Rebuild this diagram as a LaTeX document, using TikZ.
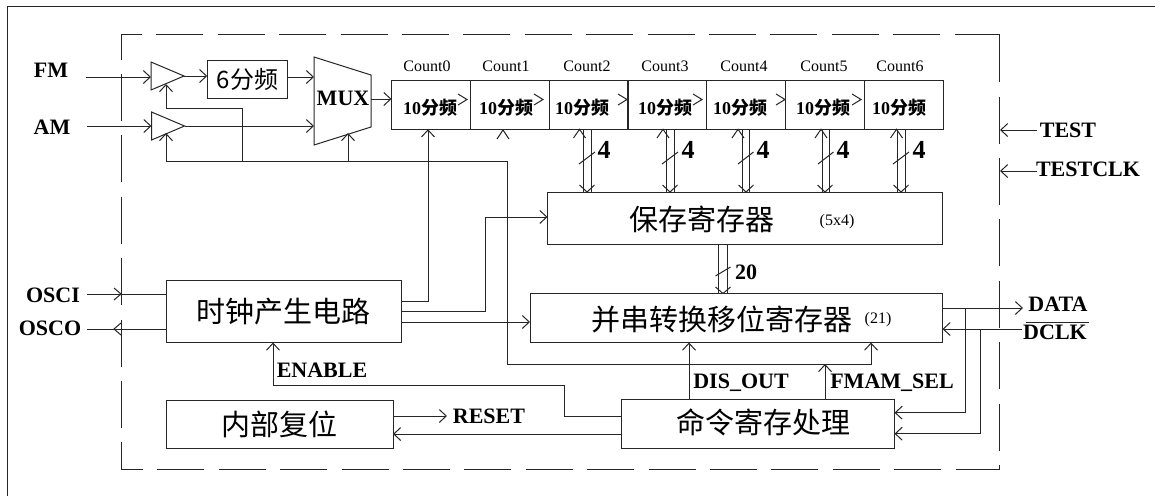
\documentclass[tikz,border=0pt]{standalone}
\usepackage{fontspec}
\setmainfont{Liberation Serif}
\newfontfamily\cjk{Noto Sans CJK SC}
\usetikzlibrary{arrows.meta,shapes.geometric}
\tikzset{
  block/.style={draw,inner sep=0pt,outer sep=0pt},
  buffer/.style={draw,isosceles triangle,isosceles triangle stretches,shape border rotate=0,
    inner sep=0pt,outer sep=0pt,minimum width=28pt,minimum height=33pt,anchor=lower side},
  pin/.style={font=\fontsize{22}{22}\selectfont\bfseries,inner sep=0pt},
  big/.style={font=\fontsize{29}{29}\selectfont\cjk,inner sep=0pt},
  small/.style={font=\fontsize{16}{16}\selectfont,inner sep=0pt},
  tendiv/.style={font=\fontsize{18}{18}\selectfont\bfseries,inner sep=0pt},
  barb/.style={>={Straight Barb[length=7pt,width=13pt]},->},
}
\begin{document}
\begin{tikzpicture}[x=1pt,y=-1pt,line width=1pt,color=black!85,every node/.append style={text=black}]
  \useasboundingbox (0,0) rectangle (1155,496);
  \draw (7.5,496) -- (7.5,6.5) -- (1155,6.5);
  % dashed outline
  \draw[dash pattern=on 47pt off 14.4pt,dash phase=26pt] (121,34.5) -- (999.5,34.5);
  \draw[dash pattern=on 47pt off 14.4pt,dash phase=22pt] (121,34.5) -- (121,469);
  \draw[dash pattern=on 47pt off 14.4pt,dash phase=25pt] (121,469) -- (999.5,469);
  \draw[dash pattern=on 47pt off 14.4pt,dash phase=43pt] (999.5,469) -- (999.5,34.5);
  % pins
  \node[pin] (fm) at (51,70) {FM};
  \node[pin] (am) at (52,127) {AM};
  \node[pin] (osci) at (53,295) {OSCI};
  \node[pin] (osco) at (50,328) {OSCO};
  \node[pin] (data) at (1058,304) {DATA};
  \node[pin] (dclk) at (1055,332) {DCLK};
  \node[pin] (test) at (1068,130) {TEST};
  \node[pin] (testclk) at (1088,169) {TESTCLK};
  \draw[line width=.9pt] (1025.5,322) -- (1089,322);
  % front end
  \node[buffer] (fmbuf) at (151,76) {};
  \node[buffer] (ambuf) at (151.5,126) {};
  \node[block,minimum width=80.5pt,minimum height=38pt] (div6) at (247.5,79)
    {\fontsize{24}{24}\selectfont\cjk 6分频};
  \node[pin] (mux) at (343,98) {MUX};
  \draw (314,57) -- (371,75) -- (371,127) -- (314,145) -- cycle;
  \coordinate (muxw) at (314,99);
  \coordinate (muxe) at (371,99);
  \coordinate (muxs) at (348,133);
  \coordinate (ctlbus) at (242,161);
  % counters
  \foreach \n/\x/\tx/\lx in {0/431/430/427,1/509.5/506/506,2/588.5/582/587,
    3/667/665/665,4/745.5/740/744,5/824.5/823/824,6/903.5/899/900}{
    \node[block,minimum width=79pt,minimum height=48.5pt] (count\n) at (\x,105) {};
    \node[tendiv] (tendiv\n) at (\tx,108) {10{\cjk 分频}};
    \node[small] (countlabel\n) at (\lx,66) {Count\n};
  }
  % big blocks
  \node[block,minimum width=395pt,minimum height=52.5pt] (save) at (745,218.25) {};
  \node[big] (savetext) at (702,219) {保存寄存器};
  \node[small] (savesize) at (837,222) {(5x4)};
  \node[block,minimum width=412.5pt,minimum height=49pt] (shift) at (736.25,318) {};
  \node[big] (shifttext) at (722,319) {并串转换移位寄存器};
  \node[small] (shiftsize) at (878,320) {(21)};
  \node[block,minimum width=234.5pt,minimum height=62.5pt,big] (clk) at (283.75,311.25) {时钟产生电路};
  \node[block,minimum width=227pt,minimum height=48.5pt,big] (rst) at (279.5,424.25) {内部复位};
  \node[block,minimum width=273pt,minimum height=49pt] (cmd) at (758,423.5) {};
  \node[big] (cmdtext) at (763,422) {命令寄存处理};
  % labels on wires
  \node[pin] (enable) at (322,370) {ENABLE};
  \node[pin] (reset) at (489,416) {RESET};
  \node[pin] (disout) at (741,383) {DIS\_OUT};
  \node[pin] (fmamsel) at (892,383) {FMAM\_SEL};
  % front end wiring
  \draw[barb] (86,77) -- (fmbuf.lower side |- 0,77);
  \draw[barb] (87,126) -- (ambuf.lower side);
  \draw[barb] (fmbuf.apex) -- (div6.west |- fmbuf.apex);
  \draw[barb] (div6.east |- 0,77) -- (muxw |- 0,77);
  \draw[barb] (ambuf.apex) -- (muxw |- ambuf.apex);
  \draw[barb] (muxe) -- (count0.west |- muxe);
  \draw[barb] (ctlbus) -- (242,108) -- (166,108) -- (166,84);
  \draw[barb] (507,364) -- (507,161) -- (166,161) -- (166,133);
  \draw[barb] (muxs |- ctlbus) -- (muxs);
  \draw[barb] (507,364) -- (871,364) -- (871,342.5);
  % carry chain
  \foreach \x in {467,543,627,702,785,861}{
    \draw (\x-9,94) -- (\x,99.5) -- (\x-9,105);
  }
  \draw (497,139) -- (503,130) -- (509,139);
  % clock wiring
  \draw[barb] (clk.east |- 0,301) -- (428,301) -- (428,129.25);
  \draw[barb] (clk.east |- 0,311) -- (485,311) -- (485,217) -- (save.west |- 0,217);
  \draw[barb] (clk.east |- 0,322) -- (shift.west |- 0,322);
  \draw (87,294) -- (clk.west |- 0,294);
  \draw (114,288) -- (121,294) -- (114,300);
  \draw (clk.west |- 0,329) -- (87,329);
  \draw (121,323) -- (114,329) -- (121,335);
  % parallel buses
  \foreach \a/\b/\u/\d/\t in {583/591/579.5/587/604,666/674/663/670/688,742/749.5/738/746/763,
    822/829.5/821/825/843,897/905/896.5/901/919}{
    \draw (\a,129.25) -- (\a,192);
    \draw (\b,129.25) -- (\b,192);
    \draw (\u-6,138) -- (\u,129.25) -- (\u+6,138);
    \draw (\d-7.5,185) -- (\d,192) -- (\d+7.5,185);
    \draw (\a-4,164) -- (\b+4,152);
    \node[pin,font=\fontsize{26}{26}\selectfont\bfseries] (buswidth\a) at (\t,150) {4};
  }
  \draw (save.south -| 718.5,0) -- (shift.north -| 718.5,0);
  \draw (save.south -| 727,0) -- (shift.north -| 727,0);
  \draw (715.5,287) -- (723,293.5) -- (730.5,287);
  \draw (715.5,276) -- (730.5,267);
  \node[pin] (shiftwidth) at (746,272) {20};
  % control wiring
  \draw[barb] (cmd.west |- 0,416) -- (564,416) -- (564,385) -- (273,385) -- (273,342.5);
  \draw[barb] (rst.east |- 0,416) -- (447,416);
  \draw[barb] (cmd.west |- 0,434) -- (rst.east |- 0,434);
  \draw[barb] (689,399) -- (689,342.5);
  \draw[barb] (825,399) -- (825,364);
  % right side
  \draw[barb] (shift.east |- 0,308) -- (1023,308);
  \draw[barb] (1022,329) -- (shift.east |- 0,329);
  \draw[barb] (965,308) -- (965,412.7) -- (cmd.east |- 0,412.7);
  \draw[barb] (980,329) -- (980,433.7) -- (cmd.east |- 0,433.7);
  \draw[barb] (1037,130) -- (1000,130);
  \draw[barb] (1037,171) -- (1000,171);
\end{tikzpicture}
\end{document}
